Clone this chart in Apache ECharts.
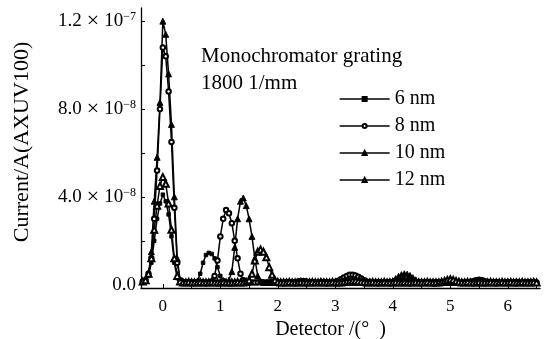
<!DOCTYPE html>
<html>
<head>
<meta charset="UTF-8">
<title>Detector scan</title>
<script src="https://cdn.jsdelivr.net/npm/echarts@6/dist/echarts.min.js"></script>
<style>
body { margin: 0; padding: 0; background: #fff; }
#main { width: 551px; height: 339px; }
</style>
</head>
<body>
<div id="main"></div>
<script>
// detector angle (deg), one scan point every 0.05
var detector = [
  -0.35,-0.30,-0.25,-0.20,-0.15,-0.10,-0.05,0.00,0.05,0.10,
  0.15,0.20,0.25,0.30,0.35,0.40,0.45,0.50,0.55,0.60,
  0.65,0.70,0.75,0.80,0.85,0.90,0.95,1.00,1.05,1.10,
  1.15,1.20,1.25,1.30,1.35,1.40,1.45,1.50,1.55,1.60,
  1.65,1.70,1.75,1.80,1.85,1.90,1.95,2.00,2.05,2.10,
  2.15,2.20,2.25,2.30,2.35,2.40,2.45,2.50,2.55,2.60,
  2.65,2.70,2.75,2.80,2.85,2.90,2.95,3.00,3.05,3.10,
  3.15,3.20,3.25,3.30,3.35,3.40,3.45,3.50,3.55,3.60,
  3.65,3.70,3.75,3.80,3.85,3.90,3.95,4.00,4.05,4.10,
  4.15,4.20,4.25,4.30,4.35,4.40,4.45,4.50,4.55,4.60,
  4.65,4.70,4.75,4.80,4.85,4.90,4.95,5.00,5.05,5.10,
  5.15,5.20,5.25,5.30,5.35,5.40,5.45,5.50,5.55,5.60,
  5.65,5.70,5.75,5.80,5.85,5.90,5.95,6.00,6.05,6.10,
  6.15,6.20,6.25,6.30,6.35,6.40,6.45,6.50
];

// current in units of 1e-8 A
var nm6 = [
  0.15,0.20,0.40,1.00,2.00,3.00,3.70,4.10,3.80,3.20,
  2.20,1.00,0.30,0.15,0.10,0.10,0.10,0.10,0.10,0.15,
  0.50,1.00,1.35,1.45,1.40,1.20,0.80,0.40,0.20,0.10,
  0.10,0.10,0.12,0.10,0.10,0.10,0.12,0.10,0.10,0.10,
  0.10,0.10,0.10,0.12,0.10,0.10,0.10,0.10,0.12,0.10,
  0.10,0.12,0.12,0.15,0.18,0.20,0.20,0.18,0.15,0.12,
  0.10,0.10,0.12,0.10,0.10,0.10,0.10,0.12,0.10,0.10,
  0.10,0.12,0.10,0.10,0.10,0.12,0.10,0.10,0.10,0.10,
  0.10,0.10,0.12,0.10,0.10,0.10,0.12,0.15,0.18,0.20,
  0.22,0.22,0.20,0.18,0.15,0.12,0.10,0.10,0.12,0.10,
  0.10,0.10,0.12,0.10,0.10,0.12,0.10,0.10,0.10,0.12,
  0.10,0.10,0.10,0.12,0.10,0.10,0.12,0.10,0.10,0.10,
  0.10,0.12,0.10,0.10,0.10,0.12,0.10,0.10,0.10,0.12,
  0.10,0.10,0.12,0.10,0.10,0.10,0.12,0.10
];
var nm8 = [
  0.15,0.20,0.50,1.20,3.00,5.20,8.00,10.80,10.40,8.80,
  6.50,3.50,1.00,0.20,0.12,0.10,0.10,0.10,0.10,0.10,
  0.10,0.10,0.10,0.10,0.15,0.40,1.10,2.20,3.00,3.40,
  3.25,2.80,2.00,1.20,0.50,0.20,0.12,0.10,0.10,0.10,
  0.10,0.12,0.10,0.10,0.10,0.12,0.10,0.10,0.10,0.10,
  0.12,0.10,0.10,0.10,0.12,0.10,0.10,0.10,0.12,0.10,
  0.10,0.10,0.10,0.12,0.10,0.10,0.10,0.12,0.18,0.25,
  0.33,0.40,0.45,0.45,0.42,0.36,0.28,0.20,0.14,0.12,
  0.10,0.10,0.12,0.10,0.10,0.10,0.12,0.10,0.10,0.10,
  0.12,0.10,0.10,0.10,0.12,0.10,0.10,0.10,0.10,0.12,
  0.10,0.10,0.10,0.12,0.10,0.10,0.12,0.12,0.10,0.10,
  0.10,0.10,0.10,0.12,0.13,0.16,0.20,0.22,0.20,0.16,
  0.12,0.10,0.10,0.12,0.10,0.10,0.10,0.12,0.10,0.10,
  0.12,0.10,0.10,0.10,0.12,0.10,0.10,0.10
];
var nm10 = [
  0.15,0.20,0.50,1.50,3.80,5.80,8.30,12.00,11.40,9.60,
  7.30,4.00,1.20,0.20,0.10,0.10,0.10,0.12,0.10,0.10,
  0.10,0.10,0.12,0.10,0.10,0.10,0.12,0.10,0.10,0.10,
  0.20,0.60,1.70,3.00,3.80,3.95,3.60,3.00,2.20,1.20,
  0.40,0.15,0.10,0.10,0.12,0.10,0.10,0.10,0.12,0.10,
  0.10,0.10,0.12,0.10,0.10,0.10,0.12,0.10,0.10,0.10,
  0.12,0.10,0.10,0.10,0.10,0.12,0.10,0.10,0.10,0.12,
  0.10,0.10,0.10,0.12,0.10,0.10,0.10,0.12,0.10,0.10,
  0.10,0.10,0.10,0.10,0.10,0.10,0.12,0.18,0.28,0.38,
  0.46,0.50,0.48,0.42,0.32,0.22,0.15,0.12,0.10,0.10,
  0.12,0.10,0.10,0.10,0.12,0.10,0.10,0.10,0.12,0.10,
  0.10,0.12,0.10,0.10,0.10,0.12,0.10,0.10,0.10,0.12,
  0.10,0.10,0.12,0.10,0.10,0.10,0.12,0.10,0.10,0.10,
  0.12,0.10,0.10,0.10,0.12,0.10,0.10,0.12
];
var nm12 = [
  0.15,0.20,0.50,1.20,2.50,3.60,4.50,4.90,4.60,3.70,
  2.50,1.20,0.40,0.15,0.10,0.10,0.12,0.10,0.10,0.10,
  0.12,0.10,0.10,0.10,0.12,0.10,0.10,0.10,0.12,0.10,
  0.10,0.10,0.10,0.12,0.10,0.10,0.12,0.20,0.50,1.10,
  1.50,1.60,1.50,1.25,0.80,0.45,0.20,0.12,0.10,0.10,
  0.10,0.12,0.10,0.10,0.10,0.12,0.10,0.10,0.10,0.12,
  0.10,0.10,0.12,0.10,0.10,0.10,0.12,0.10,0.10,0.10,
  0.12,0.14,0.16,0.18,0.18,0.16,0.14,0.12,0.10,0.10,
  0.12,0.10,0.10,0.10,0.12,0.10,0.10,0.10,0.12,0.10,
  0.10,0.12,0.10,0.10,0.10,0.12,0.10,0.10,0.10,0.12,
  0.10,0.10,0.10,0.10,0.13,0.17,0.22,0.25,0.22,0.17,
  0.13,0.10,0.10,0.12,0.10,0.10,0.10,0.12,0.10,0.10,
  0.10,0.12,0.10,0.10,0.10,0.12,0.10,0.10,0.12,0.10,
  0.10,0.10,0.12,0.10,0.10,0.10,0.12,0.10
];

var seriesNames = ['6 nm', '8 nm', '10 nm', '12 nm'];
var xTicks = [0, 0.5, 1, 1.5, 2, 2.5, 3, 3.5, 4, 4.5, 5, 5.5, 6, 6.5];
var xLabels = [0, 1, 2, 3, 4, 5, 6];
var yTicks = [0, 2, 4, 6, 8, 10, 12];
var yLabelValues = [0, 4, 8, 12];
var yLabelMantissa = ['0.0', '4.0', '8.0', '1.2'];
var yLabelExp = ['', '\u22128', '\u22128', '\u22127'];

var serif = 'Liberation Serif';
var chart = echarts.init(document.getElementById('main'));

function pairs(vals) {
  return vals.map(function (v, i) { return [detector[i], v]; });
}

function mkSeries(name, vals, symbol, size) {
  return {
    name: name,
    type: 'line',
    data: pairs(vals),
    symbol: symbol,
    symbolSize: size,
    showAllSymbol: true,
    lineStyle: { color: '#000', width: 1.5 },
    itemStyle: { color: '#000', borderColor: '#000', borderWidth: 0.9 },
    emphasis: { disabled: true },
    animation: false
  };
}

var option = {
  backgroundColor: '#fff',
  animation: false,
  title: {
    text: 'Monochromator grating\n1800 1/mm',
    left: 196,
    top: 38,
    textStyle: { fontFamily: serif, fontSize: 21, fontWeight: 'normal', color: '#000', lineHeight: 27 }
  },
  legend: {
    orient: 'vertical',
    left: 334,
    top: 84,
    itemWidth: 50,
    itemHeight: 5,
    itemGap: 7,
    data: seriesNames,
    lineStyle: { width: 1.3 },
    textStyle: { fontFamily: serif, fontSize: 20, color: '#000', lineHeight: 20 }
  },
  grid: { left: 141, right: 11, top: 8, bottom: 51, containLabel: false, outerBoundsMode: 'none' },
  xAxis: {
    type: 'value',
    min: -0.38,
    max: 6.56,
    name: 'Detector /(\u00b0  )',
    nameLocation: 'middle',
    nameGap: 32,
    nameTextStyle: { fontFamily: serif, fontSize: 20, color: '#000', padding: [0, 20, 0, 0] },
    axisLine: { onZero: false, lineStyle: { color: '#000', width: 1.3 } },
    axisTick: { inside: true, length: 4, lineStyle: { color: '#000' }, customValues: xTicks },
    axisLabel: { fontFamily: serif, fontSize: 17, color: '#000', margin: 10, customValues: xLabels },
    splitLine: { show: false }
  },
  yAxis: {
    type: 'value',
    min: -0.15,
    max: 12.6,
    name: 'Current/A(AXUV100)',
    nameLocation: 'middle',
    nameGap: 108,
    nameTextStyle: { fontFamily: serif, fontSize: 22, color: '#000', padding: [0, 0, 0, 12] },
    axisLine: { onZero: false, lineStyle: { color: '#000', width: 1.3 } },
    axisTick: { inside: true, length: 4, lineStyle: { color: '#000' }, customValues: yTicks },
    axisLabel: {
      margin: 5,
      customValues: yLabelValues,
      formatter: function (v) {
        var k = yLabelValues.indexOf(v);
        if (k < 0) return '';
        if (!yLabelExp[k]) return '{m|' + yLabelMantissa[k] + '}';
        return '{m|' + yLabelMantissa[k] + '}{x|\u00d7}{m|10}{e|' + yLabelExp[k] + '}';
      },
      rich: {
        m: { fontFamily: serif, fontSize: 19, color: '#000', lineHeight: 20 },
        x: { fontFamily: serif, fontSize: 22, color: '#000', lineHeight: 20, padding: [0, 5, 0, 5] },
        e: { fontFamily: serif, fontSize: 12, color: '#000', lineHeight: 12, verticalAlign: 'top' }
      }
    },
    splitLine: { show: false }
  },
  series: [
    mkSeries(seriesNames[0], nm6, 'rect', 3.5),
    mkSeries(seriesNames[1], nm8, 'emptyCircle', 4.5),
    mkSeries(seriesNames[2], nm10, 'triangle', 6),
    mkSeries(seriesNames[3], nm12, 'emptyTriangle', 6)
  ]
};
chart.setOption(option);
</script>
</body>
</html>
